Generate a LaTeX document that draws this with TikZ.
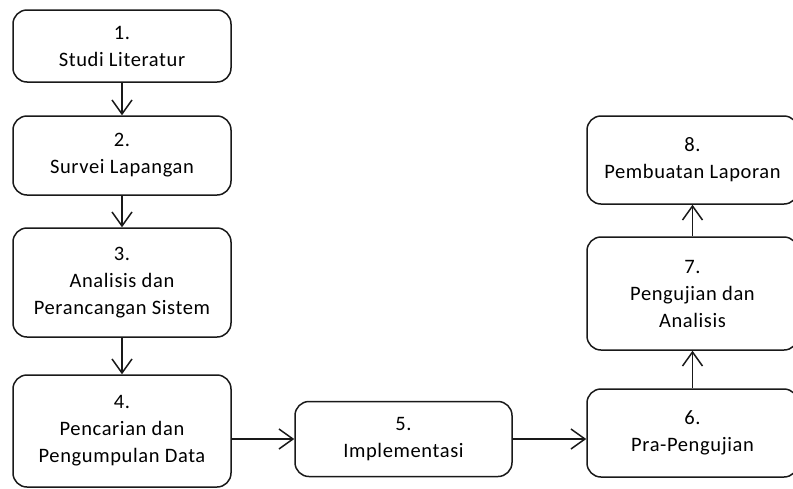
\documentclass[tikz,border=0pt]{standalone}
\usepackage{fontspec}
\setmainfont[LetterSpace=3]{Carlito}
\usetikzlibrary{arrows.meta}
\tikzset{
  stepbox/.style={draw=black!90, line width=1.5pt, rounded corners=14pt, fill=white,
    align=center, inner sep=0pt, font=\fontsize{20.5}{27}\selectfont},
  arr/.style={draw=black!90, line width=1.5pt, -{Straight Barb[length=14pt,width=20pt]}}
}
\begin{document}
\begin{tikzpicture}[x=1pt,y=-1pt]
\useasboundingbox (0,0) rectangle (793,488);
\node[stepbox, minimum width=218pt, minimum height=72pt] (b1) at (122,46) {1.\\Studi Literatur};
\node[stepbox, minimum width=218pt, minimum height=79pt] (b2) at (122,155.5) {2.\\Survei Lapangan};
\node[stepbox, minimum width=218pt, minimum height=109pt] (b3) at (122,282.5) {3.\\Analisis dan\\Perancangan Sistem};
\node[stepbox, minimum width=218pt, minimum height=112pt] (b4) at (122,431) {4.\\Pencarian dan\\Pengumpulan Data};
\node[stepbox, minimum width=217pt, minimum height=75pt] (b5) at (403.5,439) {5.\\Implementasi};
\node[stepbox, minimum width=211pt, minimum height=88pt] (b6) at (692.5,433) {6.\\Pra-Pengujian};
\node[stepbox, minimum width=211pt, minimum height=113pt] (b7) at (692.5,293.5) {7.\\Pengujian dan\\Analisis};
\node[stepbox, minimum width=211pt, minimum height=88pt] (b8) at (692.5,160) {8.\\Pembuatan Laporan};
\draw[arr] (b1) -- (b2);
\draw[arr] (b2) -- (b3);
\draw[arr] (b3) -- (b4);
\draw[arr] (b4.east |- b5.west) -- (b5.west);
\draw[arr] (b5.east) -- (b5.east -| b6.west);
\draw[arr] (b6) -- (b7);
\draw[arr] (b7) -- (b8);
\end{tikzpicture}
\end{document}
